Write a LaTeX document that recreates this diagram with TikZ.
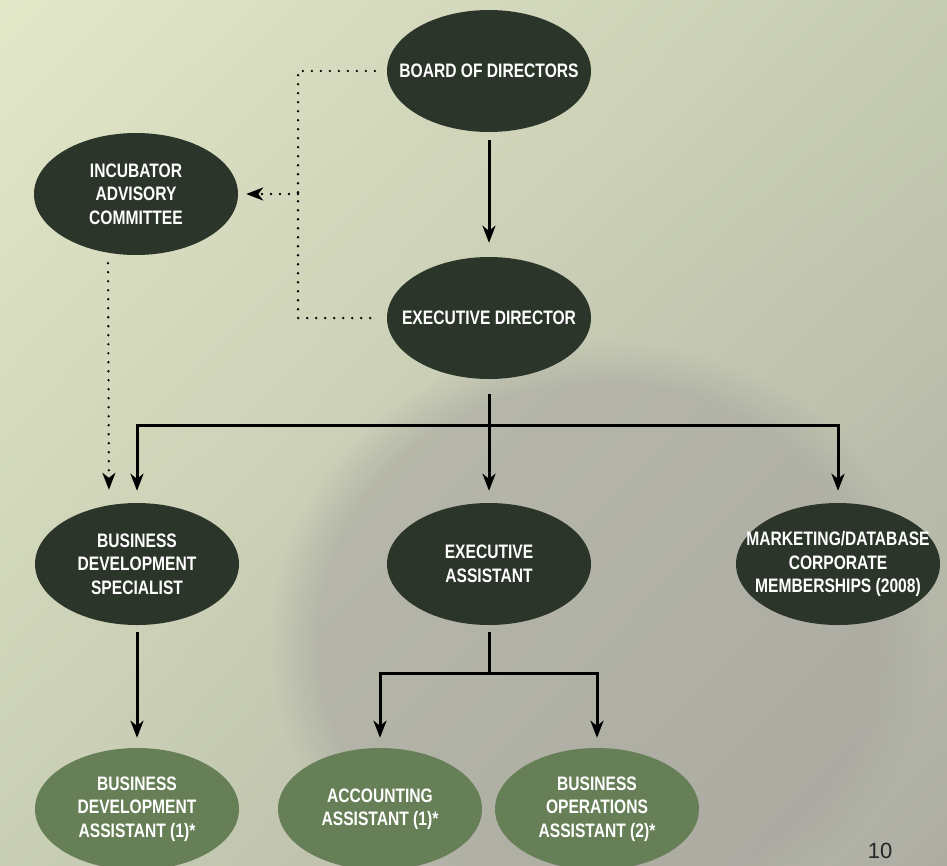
\documentclass[tikz,border=0pt]{standalone}
\usepackage{fontspec}
\newfontfamily\orgfont[FakeStretch=0.8]{Liberation Sans}
\newfontfamily\pagefont{Liberation Sans}
\usetikzlibrary{shapes.geometric,arrows.meta,fadings,shadings}
\definecolor{darkbox}{HTML}{2B3529}
\definecolor{greenbox}{HTML}{667F56}
\definecolor{bgpale}{HTML}{E2E7C8}
\definecolor{bgsage}{HTML}{C6CCB2}
\definecolor{bggrey}{HTML}{A7A5A0}
\begin{document}
\begin{tikzpicture}[x=1pt,y=-1pt,
  orgnode/.style={ellipse, fill=darkbox, text=white, minimum width=204pt,
    minimum height=122pt, inner xsep=-25pt, inner ysep=0pt, align=center,
    font=\orgfont\bfseries\fontsize{19.5}{23.5}\selectfont},
  staffnode/.style={orgnode, fill=greenbox},
  solidarrow/.style={line width=3pt, -{Stealth[length=17pt,width=13pt,inset=5pt]}},
  dotline/.style={line width=2.6pt, line cap=round, dash pattern=on 0pt off 9pt},
  dotarrow/.style={dotline, -{Stealth[length=17pt,width=13pt,inset=5pt]}}]
% background
\useasboundingbox (0,0) rectangle (947,865);
\shade[upper left=bgpale, upper right=bgsage, lower left=bgsage!90!bgpale, lower right=bggrey!80!bgsage]
  (0,0) rectangle (947,865);
\fill[bggrey, opacity=0.55, path fading=circle with fuzzy edge 15 percent] (600,640) ellipse (330 and 300);
% nodes
\node[orgnode] (board) at (489,71) {BOARD OF DIRECTORS};
\node[orgnode] (incub) at (136,194) {INCUBATOR\\ADVISORY\\COMMITTEE};
\node[orgnode] (exec) at (489,318) {EXECUTIVE DIRECTOR};
\node[orgnode] (bds) at (137,564) {BUSINESS\\DEVELOPMENT\\SPECIALIST};
\node[orgnode] (ea) at (489,564) {EXECUTIVE\\ASSISTANT};
\node[orgnode] (mkt) at (838,564) {MARKETING/DATABASE\\CORPORATE\\MEMBERSHIPS (2008)};
\node[staffnode] (bda) at (137,809) {BUSINESS\\DEVELOPMENT\\ASSISTANT (1)*};
\node[staffnode] (acc) at (380,809) {ACCOUNTING\\ASSISTANT (1)*};
\node[staffnode] (boa) at (597,809) {BUSINESS\\OPERATIONS\\ASSISTANT (2)*};
\node[font=\pagefont\fontsize{22}{22}\selectfont, text=black!85, anchor=base, inner sep=0pt]
  (pagenum) at (880,858) {10};
% solid connectors
\coordinate (execbar) at (489,425);
\coordinate (eabar) at (489,673);
\draw[solidarrow, shorten <=8pt, shorten >=14pt] (board) -- (exec);
\draw[solidarrow, shorten <=15pt, shorten >=12pt] (exec.south) -- (execbar) -| (bds.north);
\draw[solidarrow, shorten <=15pt, shorten >=12pt] (exec.south) -- (ea.north);
\draw[solidarrow, shorten <=15pt, shorten >=12pt] (exec.south) -- (execbar) -| (mkt.north);
\draw[solidarrow, shorten <=7pt, shorten >=10pt] (bds) -- (bda);
\draw[solidarrow, shorten <=7pt, shorten >=10pt] (ea.south) -- (eabar) -| (acc.north);
\draw[solidarrow, shorten <=7pt, shorten >=10pt] (ea.south) -- (eabar) -| (boa.north);
% dotted connectors
\coordinate (dotjoin) at (298,194);
\draw[dotline, shorten <=12pt, shorten >=10pt] (board.west) -| (dotjoin) |- (exec.west);
\draw[dotarrow, shorten >=8pt] (dotjoin) -- (incub.east);
\draw[dotarrow, shorten <=8pt, shorten >=13pt] ([xshift=-28pt]incub.south) -- ([xshift=-28pt]bds.north);
\end{tikzpicture}
\end{document}
